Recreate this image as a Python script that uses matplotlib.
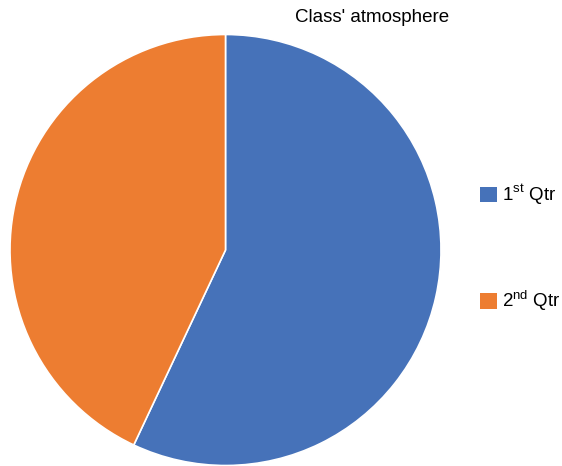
import matplotlib.pyplot as plt
from matplotlib.patches import Patch

plt.rcParams['font.family'] = ['Liberation Sans', 'DejaVu Sans']
plt.rcParams['mathtext.fontset'] = 'custom'
plt.rcParams['mathtext.rm'] = 'Liberation Sans'

labels = ['1$^{\\mathrm{st}}$ Qtr', '2$^{\\mathrm{nd}}$ Qtr']
values = [57, 43]
colors = ['#4672B9', '#ED7D31']

fig = plt.figure(figsize=(5.62, 4.66), dpi=100)
ax = fig.add_axes([10 / 562, 0.5 / 466, 431 / 562, 431 / 466])
ax.pie(values, colors=colors, startangle=90, counterclock=False,
       wedgeprops=dict(edgecolor='white', linewidth=1.2))
ax.set_xlim(-1, 1)
ax.set_ylim(-1, 1)

fig.text(372.5 / 562, 1 - 17 / 466, "Class' atmosphere", ha='center', va='center', fontsize=13.5)

handles = [Patch(facecolor=c, edgecolor='none') for c in colors]
fig.legend(handles, labels, loc='center left', bbox_to_anchor=(480 / 562, 1 - 248 / 466),
           frameon=False, fontsize=13.5, handlelength=0.9, handleheight=0.9,
           handletextpad=0.3, labelspacing=4.35, borderpad=0, borderaxespad=0)

fig.savefig('out.png', dpi=100)
